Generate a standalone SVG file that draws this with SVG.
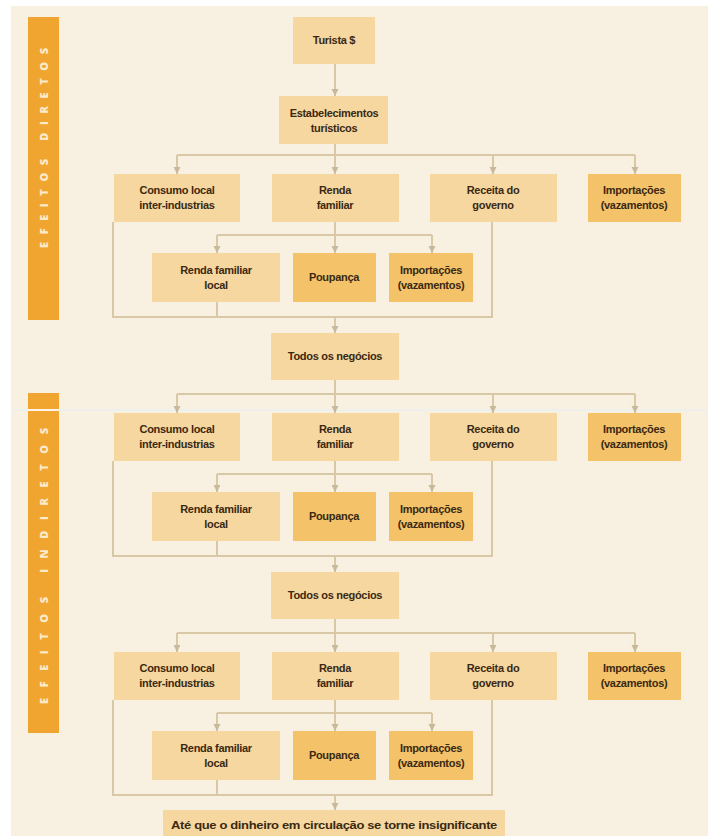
<svg xmlns="http://www.w3.org/2000/svg" width="708" height="836" viewBox="0 0 708 836">
<defs>
<style>
.bg{fill:#f8f1e2}
.bx{fill:#f6d7a0}
.dk{fill:#f3c269}
.bar{fill:#f0a531}
.t{font-family:"Liberation Sans",Arial,sans-serif;font-size:11px;font-weight:bold;fill:#3a2912;text-anchor:middle;letter-spacing:-0.3px}
.side{font-family:"Open Sans","Liberation Sans",Arial,sans-serif;font-size:11px;font-weight:800;fill:#fcebc9;text-anchor:middle}
.ln{fill:none;stroke:#d8c8a6;stroke-width:2}
.ar{fill:none;stroke:#d8c8a6;stroke-width:2;marker-end:url(#ah)}
</style>
<marker id="ah" markerUnits="userSpaceOnUse" markerWidth="8" markerHeight="8" viewBox="0 0 8 8" refX="7" refY="4" orient="auto">
<path d="M0,0.5 L7,4 L0,7.5 z" fill="#c9b99a"/>
</marker>
</defs>
<rect width="708" height="836" fill="#ffffff"/>
<rect class="bg" x="11" y="6" width="697" height="830"/>

<g id="side-diretos">
<rect class="bar" x="28" y="17" width="31" height="303"/>
<text class="side" x="44" y="152" transform="rotate(-90 44 148)" textLength="200" lengthAdjust="spacing">EFEITOS DIRETOS</text>
</g>
<g id="side-indiretos">
<rect class="bar" x="28" y="393" width="31" height="340"/>
<text class="side" x="44" y="570" transform="rotate(-90 44 566)" textLength="276" lengthAdjust="spacing">EFEITOS INDIRETOS</text>
</g>
<line x1="11" y1="410" x2="708" y2="410" stroke="#eef0ec" stroke-width="2"/>
<line x1="28" y1="410" x2="59" y2="410" stroke="#fdf6e8" stroke-width="2"/>

<g id="connectors">
<path class="ar" d="M335 64 V96"/>
<path class="ln" d="M177 155 H635"/>
<path class="ar" d="M335 144 V174"/>
<path class="ar" d="M177 155 V174"/>
<path class="ar" d="M493 155 V174"/>
<path class="ar" d="M635 155 V174"/>
<path class="ar" d="M335 222 V253"/>
<path class="ln" d="M217 235 H432"/>
<path class="ar" d="M217 235 V253"/>
<path class="ar" d="M432 235 V253"/>
<path class="ln" d="M113 222 V317 H492 V222"/>
<path class="ln" d="M217 302 V317"/>
<path class="ar" d="M335 317 V333"/>

<path class="ln" d="M177 394 H635"/>
<path class="ar" d="M335 380 V413"/>
<path class="ar" d="M177 394 V413"/>
<path class="ar" d="M493 394 V413"/>
<path class="ar" d="M635 394 V413"/>
<path class="ar" d="M335 461 V492"/>
<path class="ln" d="M217 474 H432"/>
<path class="ar" d="M217 474 V492"/>
<path class="ar" d="M432 474 V492"/>
<path class="ln" d="M113 461 V556 H492 V461"/>
<path class="ln" d="M217 541 V556"/>
<path class="ar" d="M335 556 V572"/>

<path class="ln" d="M177 633 H635"/>
<path class="ar" d="M335 619 V652"/>
<path class="ar" d="M177 633 V652"/>
<path class="ar" d="M493 633 V652"/>
<path class="ar" d="M635 633 V652"/>
<path class="ar" d="M335 700 V731"/>
<path class="ln" d="M217 713 H432"/>
<path class="ar" d="M217 713 V731"/>
<path class="ar" d="M432 713 V731"/>
<path class="ln" d="M113 700 V795 H492 V700"/>
<path class="ln" d="M217 780 V795"/>
<path class="ar" d="M335 795 V810"/>
</g>

<g id="turista"><rect class="bx" x="293" y="17" width="82" height="47"/><text class="t" x="334" y="44">Turista $</text></g>
<g id="estabelecimentos"><rect class="bx" x="279" y="96" width="109" height="48"/><text class="t" x="334" y="117">Estabelecimentos</text><text class="t" x="334" y="132">turísticos</text></g>

<!-- Block 1 -->
<g id="consumo1"><rect class="bx" x="114" y="174" width="126" height="48"/><text class="t" x="177" y="194">Consumo local</text><text class="t" x="177" y="209">inter-industrias</text></g>
<g id="renda1"><rect class="bx" x="272" y="174" width="127" height="48"/><text class="t" x="335" y="194">Renda</text><text class="t" x="335" y="209">familiar</text></g>
<g id="receita1"><rect class="bx" x="430" y="174" width="127" height="48"/><text class="t" x="493" y="194">Receita do</text><text class="t" x="493" y="209">governo</text></g>
<g id="importacoes1"><rect class="dk" x="588" y="174" width="93" height="48"/><text class="t" x="634" y="194">Importações</text><text class="t" x="634" y="209">(vazamentos)</text></g>
<g id="rendalocal1"><rect class="bx" x="152" y="253" width="128" height="49"/><text class="t" x="216" y="274">Renda familiar</text><text class="t" x="216" y="289">local</text></g>
<g id="poupanca1"><rect class="dk" x="293" y="253" width="83" height="49"/><text class="t" x="334" y="281">Poupança</text></g>
<g id="importsub1"><rect class="dk" x="389" y="253" width="84" height="49"/><text class="t" x="431" y="274">Importações</text><text class="t" x="431" y="289">(vazamentos)</text></g>
<g id="todos1"><rect class="bx" x="271" y="333" width="128" height="47"/><text class="t" x="335" y="360">Todos os negócios</text></g>

<!-- Block 2 -->
<g id="consumo2"><rect class="bx" x="114" y="413" width="126" height="48"/><text class="t" x="177" y="433">Consumo local</text><text class="t" x="177" y="448">inter-industrias</text></g>
<g id="renda2"><rect class="bx" x="272" y="413" width="127" height="48"/><text class="t" x="335" y="433">Renda</text><text class="t" x="335" y="448">familiar</text></g>
<g id="receita2"><rect class="bx" x="430" y="413" width="127" height="48"/><text class="t" x="493" y="433">Receita do</text><text class="t" x="493" y="448">governo</text></g>
<g id="importacoes2"><rect class="dk" x="588" y="413" width="93" height="48"/><text class="t" x="634" y="433">Importações</text><text class="t" x="634" y="448">(vazamentos)</text></g>
<g id="rendalocal2"><rect class="bx" x="152" y="492" width="128" height="49"/><text class="t" x="216" y="513">Renda familiar</text><text class="t" x="216" y="528">local</text></g>
<g id="poupanca2"><rect class="dk" x="293" y="492" width="83" height="49"/><text class="t" x="334" y="520">Poupança</text></g>
<g id="importsub2"><rect class="dk" x="389" y="492" width="84" height="49"/><text class="t" x="431" y="513">Importações</text><text class="t" x="431" y="528">(vazamentos)</text></g>
<g id="todos2"><rect class="bx" x="271" y="572" width="128" height="47"/><text class="t" x="335" y="599">Todos os negócios</text></g>

<!-- Block 3 -->
<g id="consumo3"><rect class="bx" x="114" y="652" width="126" height="48"/><text class="t" x="177" y="672">Consumo local</text><text class="t" x="177" y="687">inter-industrias</text></g>
<g id="renda3"><rect class="bx" x="272" y="652" width="127" height="48"/><text class="t" x="335" y="672">Renda</text><text class="t" x="335" y="687">familiar</text></g>
<g id="receita3"><rect class="bx" x="430" y="652" width="127" height="48"/><text class="t" x="493" y="672">Receita do</text><text class="t" x="493" y="687">governo</text></g>
<g id="importacoes3"><rect class="dk" x="588" y="652" width="93" height="48"/><text class="t" x="634" y="672">Importações</text><text class="t" x="634" y="687">(vazamentos)</text></g>
<g id="rendalocal3"><rect class="bx" x="152" y="731" width="128" height="49"/><text class="t" x="216" y="752">Renda familiar</text><text class="t" x="216" y="767">local</text></g>
<g id="poupanca3"><rect class="dk" x="293" y="731" width="83" height="49"/><text class="t" x="334" y="759">Poupança</text></g>
<g id="importsub3"><rect class="dk" x="389" y="731" width="84" height="49"/><text class="t" x="431" y="752">Importações</text><text class="t" x="431" y="767">(vazamentos)</text></g>
<g id="final"><rect class="bx" x="163" y="810" width="342" height="26"/><text class="t" x="334" y="829" textLength="326" lengthAdjust="spacingAndGlyphs">Até que o dinheiro em circulação se torne insignificante</text></g>
</svg>
